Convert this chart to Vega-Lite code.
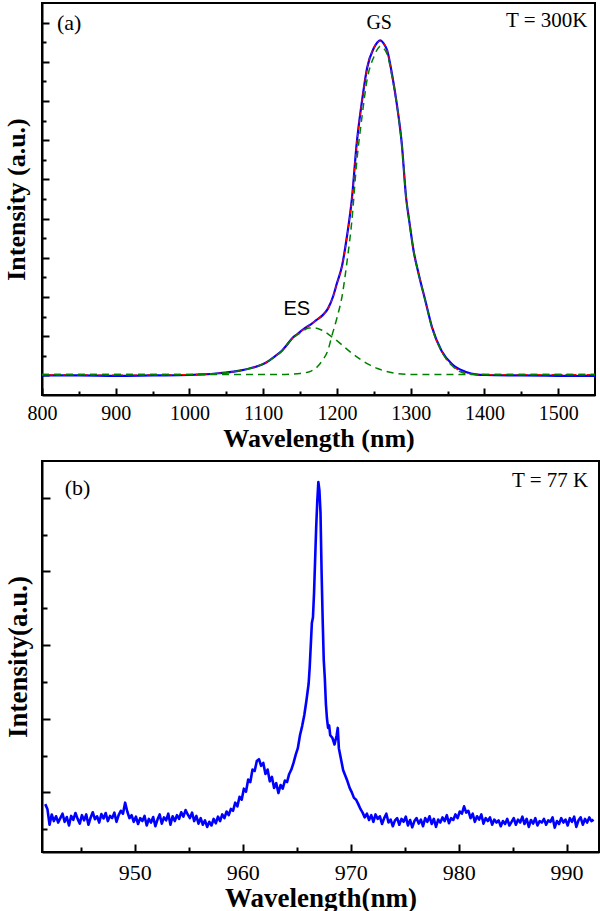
{
"$schema":"https://vega.github.io/schema/vega-lite/v6.json",
"padding":{"left":2,"top":2,"right":0,"bottom":0},
"spacing":8,
"datasets":{
"meas":[{"w":800,"i":0.0},{"w":850,"i":0.0},{"w":900,"i":-0.02},{"w":950,"i":0.0},{"w":1000,"i":0.02},{"w":1020,"i":0.05},{"w":1040,"i":0.11},{"w":1060,"i":0.19},{"w":1070,"i":0.26},{"w":1080,"i":0.34},{"w":1090,"i":0.44},{"w":1100,"i":0.58},{"w":1107,"i":0.73},{"w":1115,"i":0.95},{"w":1125,"i":1.24},{"w":1132,"i":1.55},{"w":1140,"i":1.92},{"w":1146,"i":2.1},{"w":1152,"i":2.28},{"w":1160,"i":2.5},{"w":1166,"i":2.64},{"w":1172,"i":2.82},{"w":1180,"i":3.05},{"w":1188,"i":3.42},{"w":1195,"i":4.05},{"w":1200,"i":4.7},{"w":1207,"i":5.6},{"w":1214,"i":7.2},{"w":1220,"i":8.9},{"w":1227,"i":11.9},{"w":1234,"i":14.0},{"w":1241,"i":15.7},{"w":1250,"i":16.7},{"w":1255,"i":17.0},{"w":1259,"i":17.1},{"w":1263,"i":16.95},{"w":1268,"i":16.6},{"w":1275,"i":15.3},{"w":1281,"i":13.9},{"w":1288,"i":11.8},{"w":1294,"i":9.0},{"w":1298,"i":7.9},{"w":1304,"i":6.35},{"w":1311,"i":5.15},{"w":1320,"i":3.8},{"w":1329,"i":2.45},{"w":1342,"i":1.25},{"w":1356,"i":0.58},{"w":1374,"i":0.19},{"w":1390,"i":0.04},{"w":1400,"i":0.02},{"w":1450,"i":0.0},{"w":1500,"i":-0.02},{"w":1550,"i":-0.03}],
"fit":[{"w":800,"i":0.03},{"w":900,"i":0.02},{"w":1000,"i":0.04},{"w":1020,"i":0.06},{"w":1040,"i":0.11},{"w":1060,"i":0.19},{"w":1070,"i":0.26},{"w":1080,"i":0.34},{"w":1090,"i":0.44},{"w":1100,"i":0.58},{"w":1107,"i":0.73},{"w":1115,"i":0.95},{"w":1125,"i":1.24},{"w":1132,"i":1.55},{"w":1140,"i":1.92},{"w":1146,"i":2.1},{"w":1152,"i":2.28},{"w":1160,"i":2.5},{"w":1166,"i":2.64},{"w":1172,"i":2.82},{"w":1180,"i":3.05},{"w":1188,"i":3.42},{"w":1195,"i":4.05},{"w":1200,"i":4.7},{"w":1207,"i":5.6},{"w":1214,"i":7.2},{"w":1220,"i":8.9},{"w":1227,"i":11.9},{"w":1234,"i":14.0},{"w":1241,"i":15.7},{"w":1250,"i":16.7},{"w":1255,"i":17.0},{"w":1259,"i":17.05},{"w":1263,"i":16.95},{"w":1268,"i":16.6},{"w":1275,"i":15.3},{"w":1281,"i":13.9},{"w":1288,"i":11.8},{"w":1294,"i":9.0},{"w":1298,"i":7.9},{"w":1304,"i":6.35},{"w":1311,"i":5.15},{"w":1320,"i":3.8},{"w":1329,"i":2.45},{"w":1342,"i":1.22},{"w":1356,"i":0.52},{"w":1374,"i":0.14},{"w":1390,"i":0.05},{"w":1450,"i":0.04},{"w":1550,"i":0.04}],
"gs":[{"w":800,"i":0.04},{"w":1000,"i":0.04},{"w":1100,"i":0.04},{"w":1130,"i":0.05},{"w":1150,"i":0.1},{"w":1165,"i":0.22},{"w":1175,"i":0.5},{"w":1180,"i":0.75},{"w":1188,"i":1.3},{"w":1193,"i":2.0},{"w":1200,"i":2.93},{"w":1207,"i":4.05},{"w":1214,"i":5.9},{"w":1220,"i":7.8},{"w":1227,"i":10.95},{"w":1234,"i":13.2},{"w":1241,"i":15.1},{"w":1250,"i":16.25},{"w":1255,"i":16.65},{"w":1259,"i":16.8},{"w":1263,"i":16.7},{"w":1268,"i":16.4},{"w":1275,"i":15.2},{"w":1281,"i":13.85},{"w":1288,"i":11.75},{"w":1294,"i":8.98},{"w":1298,"i":7.88},{"w":1304,"i":6.33},{"w":1311,"i":5.13},{"w":1320,"i":3.78},{"w":1329,"i":2.43},{"w":1342,"i":1.22},{"w":1356,"i":0.5},{"w":1374,"i":0.1},{"w":1390,"i":0.05},{"w":1450,"i":0.04},{"w":1550,"i":0.04}],
"es":[{"w":800,"i":0.04},{"w":1000,"i":0.05},{"w":1040,"i":0.11},{"w":1070,"i":0.26},{"w":1090,"i":0.44},{"w":1107,"i":0.73},{"w":1125,"i":1.24},{"w":1140,"i":1.9},{"w":1152,"i":2.2},{"w":1162,"i":2.42},{"w":1170,"i":2.42},{"w":1180,"i":2.3},{"w":1193,"i":1.97},{"w":1200,"i":1.77},{"w":1207,"i":1.55},{"w":1220,"i":1.14},{"w":1234,"i":0.76},{"w":1243,"i":0.56},{"w":1255,"i":0.35},{"w":1266,"i":0.21},{"w":1283,"i":0.09},{"w":1300,"i":0.05},{"w":1330,"i":0.04},{"w":1550,"i":0.04}],
"pl":[{"w":941.7,"i":0.68},{"w":941.9,"i":0.55},{"w":942.1,"i":0.12},{"w":942.3,"i":0.40},{"w":942.5,"i":0.22},{"w":942.7,"i":0.35},{"w":942.9,"i":0.18},{"w":943.1,"i":0.30},{"w":943.3,"i":0.42},{"w":943.5,"i":0.20},{"w":943.7,"i":0.33},{"w":943.9,"i":0.10},{"w":944.1,"i":0.36},{"w":944.3,"i":0.25},{"w":944.5,"i":0.44},{"w":944.7,"i":0.28},{"w":944.9,"i":0.15},{"w":945.1,"i":0.38},{"w":945.3,"i":0.24},{"w":945.5,"i":0.40},{"w":945.7,"i":0.12},{"w":945.9,"i":0.31},{"w":946.1,"i":0.46},{"w":946.3,"i":0.27},{"w":946.5,"i":0.35},{"w":946.7,"i":0.18},{"w":946.9,"i":0.41},{"w":947.1,"i":0.29},{"w":947.3,"i":0.44},{"w":947.5,"i":0.22},{"w":947.7,"i":0.36},{"w":947.9,"i":0.30},{"w":948.1,"i":0.45},{"w":948.3,"i":0.20},{"w":948.5,"i":0.38},{"w":948.7,"i":0.50},{"w":948.9,"i":0.42},{"w":949.1,"i":0.72},{"w":949.3,"i":0.48},{"w":949.5,"i":0.30},{"w":949.7,"i":0.38},{"w":949.9,"i":0.20},{"w":950.1,"i":0.34},{"w":950.3,"i":0.14},{"w":950.5,"i":0.30},{"w":950.7,"i":0.22},{"w":950.9,"i":0.36},{"w":951.1,"i":0.10},{"w":951.3,"i":0.28},{"w":951.5,"i":0.18},{"w":951.7,"i":0.33},{"w":951.9,"i":0.08},{"w":952.1,"i":0.26},{"w":952.3,"i":0.40},{"w":952.5,"i":0.15},{"w":952.7,"i":0.32},{"w":952.9,"i":0.24},{"w":953.1,"i":0.42},{"w":953.3,"i":0.12},{"w":953.5,"i":0.35},{"w":953.7,"i":0.22},{"w":953.9,"i":0.38},{"w":954.1,"i":0.28},{"w":954.3,"i":0.46},{"w":954.5,"i":0.34},{"w":954.7,"i":0.52},{"w":954.9,"i":0.40},{"w":955.1,"i":0.30},{"w":955.3,"i":0.45},{"w":955.5,"i":0.22},{"w":955.7,"i":0.36},{"w":955.9,"i":0.15},{"w":956.1,"i":0.30},{"w":956.3,"i":0.12},{"w":956.5,"i":0.24},{"w":956.7,"i":0.06},{"w":956.9,"i":0.20},{"w":957.1,"i":0.10},{"w":957.3,"i":0.28},{"w":957.5,"i":0.16},{"w":957.7,"i":0.34},{"w":957.9,"i":0.22},{"w":958.1,"i":0.40},{"w":958.3,"i":0.30},{"w":958.5,"i":0.48},{"w":958.7,"i":0.38},{"w":958.9,"i":0.55},{"w":959.1,"i":0.50},{"w":959.3,"i":0.72},{"w":959.5,"i":0.62},{"w":959.7,"i":0.88},{"w":959.9,"i":0.80},{"w":960.1,"i":1.10},{"w":960.3,"i":1.02},{"w":960.5,"i":1.35},{"w":960.7,"i":1.28},{"w":960.9,"i":1.62},{"w":961.1,"i":1.58},{"w":961.3,"i":1.85},{"w":961.5,"i":1.90},{"w":961.7,"i":1.72},{"w":961.9,"i":1.80},{"w":962.1,"i":1.50},{"w":962.3,"i":1.62},{"w":962.5,"i":1.30},{"w":962.7,"i":1.42},{"w":962.9,"i":1.12},{"w":963.1,"i":1.25},{"w":963.3,"i":0.98},{"w":963.5,"i":1.20},{"w":963.7,"i":1.10},{"w":963.9,"i":1.32},{"w":964.1,"i":1.28},{"w":964.3,"i":1.50},{"w":964.5,"i":1.62},{"w":964.7,"i":1.80},{"w":964.9,"i":2.02},{"w":965.1,"i":2.20},{"w":965.3,"i":2.55},{"w":965.5,"i":2.80},{"w":965.7,"i":3.10},{"w":965.9,"i":3.50},{"w":966.1,"i":3.95},{"w":966.2,"i":4.40},{"w":966.3,"i":5.00},{"w":966.4,"i":5.60},{"w":966.5,"i":5.75},{"w":966.6,"i":6.40},{"w":966.7,"i":7.30},{"w":966.8,"i":8.20},{"w":966.9,"i":8.90},{"w":967.0,"i":9.43},{"w":967.1,"i":9.20},{"w":967.2,"i":8.60},{"w":967.3,"i":7.00},{"w":967.4,"i":5.70},{"w":967.5,"i":4.60},{"w":967.6,"i":4.10},{"w":967.7,"i":3.40},{"w":967.8,"i":3.00},{"w":967.9,"i":2.75},{"w":968.0,"i":2.82},{"w":968.1,"i":2.55},{"w":968.3,"i":2.48},{"w":968.5,"i":2.30},{"w":968.7,"i":2.55},{"w":968.8,"i":2.75},{"w":968.9,"i":2.20},{"w":969.1,"i":1.90},{"w":969.3,"i":1.60},{"w":969.5,"i":1.45},{"w":969.7,"i":1.30},{"w":969.9,"i":1.12},{"w":970.1,"i":1.00},{"w":970.3,"i":0.85},{"w":970.5,"i":0.80},{"w":970.7,"i":0.68},{"w":970.9,"i":0.55},{"w":971.1,"i":0.45},{"w":971.3,"i":0.32},{"w":971.5,"i":0.42},{"w":971.7,"i":0.25},{"w":971.9,"i":0.38},{"w":972.1,"i":0.20},{"w":972.3,"i":0.40},{"w":972.5,"i":0.28},{"w":972.7,"i":0.35},{"w":972.9,"i":0.14},{"w":973.1,"i":0.30},{"w":973.3,"i":0.42},{"w":973.5,"i":0.18},{"w":973.7,"i":0.26},{"w":973.9,"i":0.08},{"w":974.1,"i":0.24},{"w":974.3,"i":0.30},{"w":974.5,"i":0.12},{"w":974.7,"i":0.28},{"w":974.9,"i":0.20},{"w":975.1,"i":0.34},{"w":975.3,"i":0.10},{"w":975.5,"i":0.25},{"w":975.7,"i":0.05},{"w":975.9,"i":0.22},{"w":976.1,"i":0.30},{"w":976.3,"i":0.15},{"w":976.5,"i":0.26},{"w":976.7,"i":0.08},{"w":976.9,"i":0.30},{"w":977.1,"i":0.20},{"w":977.3,"i":0.35},{"w":977.5,"i":0.14},{"w":977.7,"i":0.28},{"w":977.9,"i":0.06},{"w":978.1,"i":0.26},{"w":978.3,"i":0.18},{"w":978.5,"i":0.32},{"w":978.7,"i":0.22},{"w":978.9,"i":0.38},{"w":979.1,"i":0.16},{"w":979.3,"i":0.30},{"w":979.5,"i":0.25},{"w":979.7,"i":0.40},{"w":979.9,"i":0.30},{"w":980.1,"i":0.48},{"w":980.3,"i":0.42},{"w":980.5,"i":0.62},{"w":980.7,"i":0.45},{"w":980.9,"i":0.50},{"w":981.1,"i":0.30},{"w":981.3,"i":0.42},{"w":981.5,"i":0.20},{"w":981.7,"i":0.35},{"w":981.9,"i":0.26},{"w":982.1,"i":0.40},{"w":982.3,"i":0.15},{"w":982.5,"i":0.30},{"w":982.7,"i":0.22},{"w":982.9,"i":0.32},{"w":983.1,"i":0.12},{"w":983.3,"i":0.26},{"w":983.5,"i":0.18},{"w":983.7,"i":0.24},{"w":983.9,"i":0.08},{"w":984.1,"i":0.22},{"w":984.3,"i":0.14},{"w":984.5,"i":0.28},{"w":984.7,"i":0.10},{"w":984.9,"i":0.20},{"w":985.1,"i":0.30},{"w":985.3,"i":0.12},{"w":985.5,"i":0.26},{"w":985.7,"i":0.18},{"w":985.9,"i":0.34},{"w":986.1,"i":0.14},{"w":986.3,"i":0.28},{"w":986.5,"i":0.06},{"w":986.7,"i":0.25},{"w":986.9,"i":0.15},{"w":987.1,"i":0.30},{"w":987.3,"i":0.10},{"w":987.5,"i":0.22},{"w":987.7,"i":0.18},{"w":987.9,"i":0.28},{"w":988.1,"i":0.12},{"w":988.3,"i":0.24},{"w":988.5,"i":0.20},{"w":988.7,"i":0.32},{"w":988.9,"i":0.04},{"w":989.1,"i":0.22},{"w":989.3,"i":0.14},{"w":989.5,"i":0.30},{"w":989.7,"i":0.18},{"w":989.9,"i":0.26},{"w":990.1,"i":0.10},{"w":990.3,"i":0.30},{"w":990.5,"i":0.20},{"w":990.7,"i":0.34},{"w":990.9,"i":0.06},{"w":991.1,"i":0.24},{"w":991.3,"i":0.32},{"w":991.5,"i":0.12},{"w":991.7,"i":0.28},{"w":991.9,"i":0.18},{"w":992.1,"i":0.32},{"w":992.3,"i":0.22},{"w":992.5,"i":0.26}]
},
"vconcat":[
{
"width":553,"height":392,
"resolve":{"axis":{"x":"independent","y":"independent"}},
"layer":[
{"data":{"name":"meas"},"mark":{"type":"line","color":"#0000ff","strokeWidth":2.2,"interpolate":"monotone"},
 "encoding":{
  "x":{"field":"w","type":"quantitative","scale":{"domain":[800,1550],"nice":false,"zero":false},
   "axis":{"orient":"bottom","values":[800,900,1000,1100,1200,1300,1400,1500],"format":"d","tickSize":-7,"labelPadding":15,"labelFontSize":20,"title":"Wavelength (nm)","titleFontSize":26,"titlePadding":2}},
  "y":{"field":"i","type":"quantitative","scale":{"domain":[-1,19],"nice":false,"zero":false},
   "axis":{"orient":"left","values":[0,2,4,6,8,10,12,14,16,18],"tickSize":-7,"labels":false,"title":"Intensity (a.u.)","titleFontSize":26,"titlePadding":12}}}},
{"data":{"name":"fit"},"mark":{"type":"line","color":"#ff0000","strokeWidth":1.2,"strokeDash":[4,3],"interpolate":"monotone"},
 "encoding":{
  "x":{"field":"w","type":"quantitative","axis":{"orient":"bottom","values":[850,950,1050,1150,1250,1350,1450],"tickSize":-4,"labels":false,"domain":false,"title":null}},
  "y":{"field":"i","type":"quantitative","axis":{"orient":"left","values":[1,3,5,7,9,11,13,15,17],"tickSize":-4,"labels":false,"domain":false,"title":null}}}},
{"data":{"name":"gs"},"mark":{"type":"line","color":"#008000","strokeWidth":1.5,"strokeDash":[7,5],"interpolate":"monotone"},
 "encoding":{"x":{"field":"w","type":"quantitative","axis":null},"y":{"field":"i","type":"quantitative","axis":null}}},
{"data":{"name":"es"},"mark":{"type":"line","color":"#008000","strokeWidth":1.5,"strokeDash":[7,5],"interpolate":"monotone"},
 "encoding":{"x":{"field":"w","type":"quantitative","axis":null},"y":{"field":"i","type":"quantitative","axis":null}}},
{"data":{"values":[{"w":820.3,"i":18.0,"t":"(a)"}]},"mark":{"type":"text","align":"left","baseline":"middle","fontSize":22,"color":"black"},
 "encoding":{"x":{"field":"w","type":"quantitative","axis":null},"y":{"field":"i","type":"quantitative","axis":null},"text":{"field":"t"}}},
{"data":{"values":[{"w":1539.8,"i":18.07,"t":"T = 300K"}]},"mark":{"type":"text","align":"right","baseline":"middle","fontSize":21,"color":"black"},
 "encoding":{"x":{"field":"w","type":"quantitative","axis":null},"y":{"field":"i","type":"quantitative","axis":null},"text":{"field":"t"}}},
{"data":{"values":[{"w":1257.3,"i":17.97,"t":"GS"}]},"mark":{"type":"text","align":"center","baseline":"middle","fontSize":20,"color":"black"},
 "encoding":{"x":{"field":"w","type":"quantitative","axis":null},"y":{"field":"i","type":"quantitative","axis":null},"text":{"field":"t"}}},
{"data":{"values":[{"w":1145.5,"i":3.41,"t":"ES"}]},"mark":{"type":"text","align":"center","baseline":"middle","font":"Liberation Sans","fontSize":20,"color":"black"},
 "encoding":{"x":{"field":"w","type":"quantitative","axis":null},"y":{"field":"i","type":"quantitative","axis":null},"text":{"field":"t"}}}
]
},
{
"width":557,"height":391,
"resolve":{"axis":{"x":"independent","y":"independent"}},
"layer":[
{"data":{"name":"pl"},"mark":{"type":"line","color":"#0000ff","strokeWidth":2.6,"strokeJoin":"round"},
 "encoding":{
  "x":{"field":"w","type":"quantitative","scale":{"domain":[941.4,993],"nice":false,"zero":false},
   "axis":{"orient":"bottom","values":[950,960,970,980,990],"format":"d","tickSize":-8,"labelPadding":18,"labelFontSize":22,"title":"Wavelength(nm)","titleFontSize":27,"titlePadding":2}},
  "y":{"field":"i","type":"quantitative","scale":{"domain":[-0.62,10],"nice":false,"zero":false},
   "axis":{"orient":"left","values":[1,3,5,7,9],"tickSize":-8,"labels":false,"title":"Intensity(a.u.)","titleFontSize":27,"titlePadding":9}}}},
{"data":{"name":"pl"},"mark":{"type":"line","opacity":0},
 "encoding":{
  "x":{"field":"w","type":"quantitative","axis":{"orient":"bottom","values":[945,955,965,975,985],"tickSize":-5,"labels":false,"domain":false,"title":null}},
  "y":{"field":"i","type":"quantitative","axis":{"orient":"left","values":[0,2,4,6,8],"tickSize":-5,"labels":false,"domain":false,"title":null}}}},
{"data":{"values":[{"w":943.5,"i":9.28,"t":"(b)"}]},"mark":{"type":"text","align":"left","baseline":"middle","fontSize":22,"color":"black"},
 "encoding":{"x":{"field":"w","type":"quantitative","axis":null},"y":{"field":"i","type":"quantitative","axis":null},"text":{"field":"t"}}},
{"data":{"values":[{"w":992.0,"i":9.46,"t":"T = 77 K"}]},"mark":{"type":"text","align":"right","baseline":"middle","fontSize":21,"color":"black"},
 "encoding":{"x":{"field":"w","type":"quantitative","axis":null},"y":{"field":"i","type":"quantitative","axis":null},"text":{"field":"t"}}}
]
}
],
"config":{
 "font":"Liberation Serif",
 "view":{"stroke":"black","strokeWidth":2},
 "axis":{"grid":false,"domainColor":"black","tickColor":"black","labelColor":"black","titleColor":"black","labelFont":"Liberation Serif","titleFont":"Liberation Serif","titleFontWeight":"bold","tickWidth":2,"domainWidth":2,"labelFlush":false,"labelOverlap":false}
}
}
